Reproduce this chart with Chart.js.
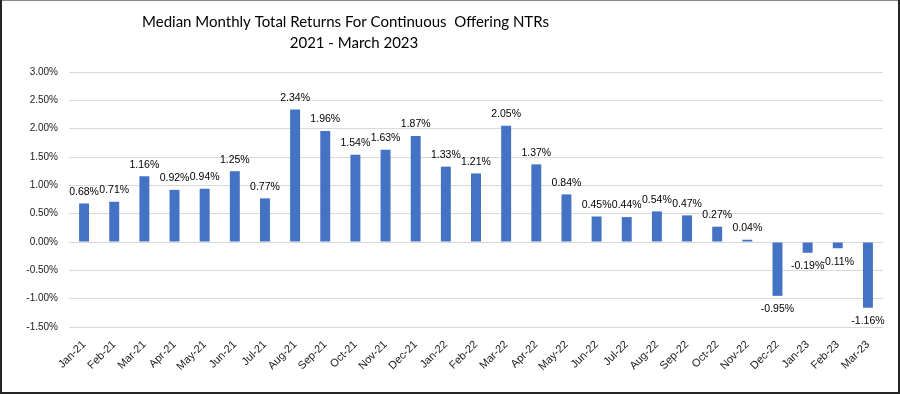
<!DOCTYPE html>
<html>
<head>
<meta charset="utf-8">
<script src="https://cdn.jsdelivr.net/npm/chart.js@4/dist/chart.umd.min.js"></script>
<style>
html,body{margin:0;padding:0;background:#fff;}
#wrap{width:900px;height:394px;position:relative;}
</style>
</head>
<body>
<div id="wrap"><canvas id="c" width="900" height="394"></canvas></div>
<script>
const titleLines = ['Median Monthly Total Returns For Continuous  Offering NTRs', '2021 - March 2023'];
const categories = ['Jan-21','Feb-21','Mar-21','Apr-21','May-21','Jun-21','Jul-21','Aug-21','Sep-21','Oct-21','Nov-21','Dec-21',
  'Jan-22','Feb-22','Mar-22','Apr-22','May-22','Jun-22','Jul-22','Aug-22','Sep-22','Oct-22','Nov-22','Dec-22',
  'Jan-23','Feb-23','Mar-23'];
const returnsPct = [0.68,0.71,1.16,0.92,0.94,1.25,0.77,2.34,1.96,1.54,1.63,1.87,
  1.33,1.21,2.05,1.37,0.84,0.45,0.44,0.54,0.47,0.27,0.04,-0.95,
  -0.19,-0.11,-1.16];
const yTicks = [-1.5,-1.0,-0.5,0,0.5,1.0,1.5,2.0,2.5,3.0];

const FONT = '"Liberation Sans", Arial, sans-serif';
const TFONT = 'Lato, "Liberation Sans", sans-serif';

const bgBorder = {
  id:'bgBorder',
  beforeDraw(chart){
    const c = chart.ctx;
    c.save();
    c.fillStyle = '#fff';
    c.fillRect(0,0,chart.width,chart.height);
    c.restore();
  },
  afterDraw(chart){
    const c = chart.ctx, w = chart.width, h = chart.height;
    c.save();
    c.fillStyle = '#8a8a8a';
    c.fillRect(0,0,w,1);
    c.fillStyle = '#262626';
    c.fillRect(0,0,2,h);
    c.fillRect(w-2,0,2,h);
    c.fillRect(0,h-2,w,2);
    c.restore();
  }
};

const titlePlugin = {
  id:'titleLines',
  afterDraw(chart){
    const c = chart.ctx;
    c.save();
    c.fillStyle = '#000';
    c.font = '15px ' + TFONT;
    c.textAlign = 'center';
    c.textBaseline = 'middle';
    c.fillText(titleLines[0], 345.5, 22);
    c.fillText(titleLines[1], 354, 43);
    c.restore();
  }
};

const dataLabels = {
  id:'dataLabels',
  afterDatasetsDraw(chart){
    const c = chart.ctx;
    const meta = chart.getDatasetMeta(0);
    const vals = chart.data.datasets[0].data;
    c.save();
    c.fillStyle = '#000';
    c.font = '10.5px ' + FONT;
    c.textAlign = 'center';
    c.textBaseline = 'middle';
    meta.data.forEach((el,i)=>{
      const v = vals[i];
      const y = v >= 0 ? el.y - 11.5 : el.y + 13.5;
      c.fillText(v.toFixed(2) + '%', el.x, y);
    });
    c.restore();
  }
};

new Chart(document.getElementById('c'), {
  type:'bar',
  data:{
    labels: categories,
    datasets:[{
      data: returnsPct,
      backgroundColor:'#4472C4',
      borderWidth:0,
      barPercentage:0.33,
      categoryPercentage:1.0
    }]
  },
  options:{
    responsive:false,
    animation:false,
    devicePixelRatio:1,
    layout:{padding:{top:72,right:17,bottom:0,left:0}},
    plugins:{legend:{display:false},title:{display:false},tooltip:{enabled:false}},
    scales:{
      x:{
        grid:{display:false},
        border:{display:false},
        ticks:{
          color:'#1a1a1a',
          font:{family:FONT,size:11},
          minRotation:45,maxRotation:45,
          autoSkip:false,
          padding:3
        },
        afterFit(scale){ scale.height = 67; }
      },
      y:{
        min:-1.5,max:3.0,
        grid:{color:'#d9d9d9',lineWidth:1,drawTicks:false},
        border:{display:false},
        afterBuildTicks(scale){ scale.ticks = yTicks.map(v=>({value:v})); },
        ticks:{
          color:'#1a1a1a',
          font:{family:FONT,size:10},
          padding:11,
          callback:(v)=>Number(v).toFixed(2)+'%'
        },
        afterFit(scale){ scale.width = 69; }
      }
    }
  },
  plugins:[bgBorder,titlePlugin,dataLabels]
});
</script>
</body>
</html>
